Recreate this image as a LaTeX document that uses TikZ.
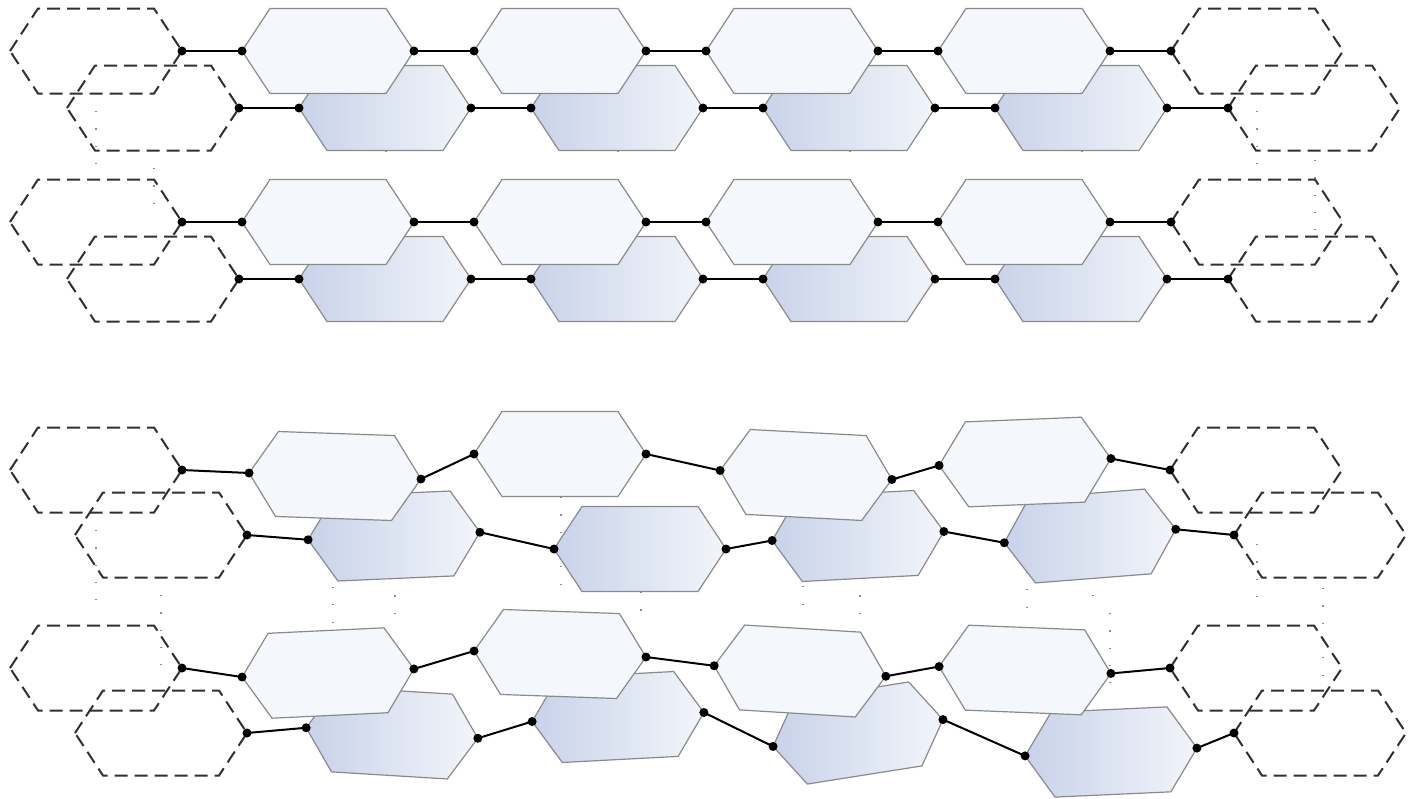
\documentclass[tikz,border=0pt]{standalone}
\definecolor{edgec}{HTML}{8A8A8A}
\definecolor{paperc}{HTML}{F4F7FB}
\definecolor{deepc}{HTML}{C8D2E9}
\definecolor{palec}{HTML}{F2F5FA}
\definecolor{ghostc}{HTML}{303030}
\definecolor{tracec}{HTML}{8A8A8A}
\tikzset{
  frontcell/.style={draw=edgec,line width=1.2pt,fill=paperc},
  backcell/.style={draw=edgec,line width=1.2pt,left color=deepc,right color=palec},
  ghostcell/.style={draw=ghostc,line width=2pt,dash pattern=on 13pt off 7pt},
  link/.style={line width=2pt,black},
  faint/.style={tracec,line width=1.4pt,dash pattern=on 1.2pt off 16.1pt}
}
% hexagon: name, x, y, angle, style
\newcommand\hexcell[5]{%
  \begin{scope}[shift={({#2},{#3})},rotate=#4]
    \path[#5] (-86,0) coordinate (#1-l) -- (-58,-42.5) -- (58,-42.5)
      -- (86,0) coordinate (#1-r) -- (58,42.5) -- (-58,42.5) -- cycle;
  \end{scope}}
% bond between two hexagons
\newcommand\linkup[2]{%
  \draw[link] (#1-r) -- (#2-l);
  \fill (#1-r) circle (4.5pt); \fill (#2-l) circle (4.5pt);}
\begin{document}
\begin{tikzpicture}[x=1pt,y=-1pt]
 \useasboundingbox (0,0) rectangle (1408,798);
 % faint stacking dots
 \foreach \x/\ya/\yb in {96/111/163,154/168/219,328/94/163,386/151/168,560/94/163,618/151/168,
   792/94/163,850/151/168,1024/94/163,1082/151/168,1257/111/163,1315/160/233,
   96/530/615,161/595/680,333/535/638,395/578/628,561/497/600,641/592/620,
   803/517/620,860/578/620,1027/520/623,1093/595/612,1110/613/697,1257/544/605,1323/588/682}
   \draw[faint] (\x,\ya) -- (\x,\yb);
 % upper sheet: straight chains
 \foreach \r/\yy in {B/108,D/279}{
   \hexcell{\r0}{153}{\yy}{0}{ghostcell}
   \foreach \k in {1,...,4}{\hexcell{\r\k}{153+232*\k}{\yy}{0}{backcell}}
   \hexcell{\r5}{1314}{\yy}{0}{ghostcell}
   \foreach \k [count=\n] in {0,...,4}{\linkup{\r\k}{\r\n}}
 }
 \foreach \r/\yy in {A/51,C/222}{
   \hexcell{\r0}{96}{\yy}{0}{ghostcell}
   \foreach \k in {1,...,4}{\hexcell{\r\k}{96+232*\k}{\yy}{0}{frontcell}}
   \hexcell{\r5}{1257}{\yy}{0}{ghostcell}
   \foreach \k [count=\n] in {0,...,4}{\linkup{\r\k}{\r\n}}
 }
 % lower sheet: distorted chains
 \hexcell{F0}{161}{535}{0}{ghostcell}
 \hexcell{F1}{394}{536}{2.5}{backcell}
 \hexcell{F2}{640}{549}{0}{backcell}
 \hexcell{F3}{858}{536}{3}{backcell}
 \hexcell{F4}{1090}{536}{4.5}{backcell}
 \hexcell{F5}{1320}{535}{0}{ghostcell}
 \foreach \k [count=\n] in {0,...,4}{\linkup{F\k}{F\n}}
 \hexcell{E0}{96}{470}{0}{ghostcell}
 \hexcell{E1}{335}{476}{-2}{frontcell}
 \hexcell{E2}{560}{454}{0}{frontcell}
 \hexcell{E3}{806}{475}{-3}{frontcell}
 \hexcell{E4}{1025}{462}{2.3}{frontcell}
 \hexcell{E5}{1256}{470}{0}{ghostcell}
 \foreach \k [count=\n] in {0,...,4}{\linkup{E\k}{E\n}}
 \hexcell{H0}{161}{733}{0}{ghostcell}
 \hexcell{H1}{392}{733}{-3.5}{backcell}
 \hexcell{H2}{618}{717}{3}{backcell}
 \hexcell{H3}{858}{733}{9}{backcell}
 \hexcell{H4}{1111}{752}{2.6}{backcell}
 \hexcell{H5}{1320}{733}{0}{ghostcell}
 \foreach \k [count=\n] in {0,...,4}{\linkup{H\k}{H\n}}
 \hexcell{G0}{96}{668}{0}{ghostcell}
 \hexcell{G1}{328}{673}{2.7}{frontcell}
 \hexcell{G2}{560}{654}{-2}{frontcell}
 \hexcell{G3}{800}{671}{-3.5}{frontcell}
 \hexcell{G4}{1025}{670}{-2.3}{frontcell}
 \hexcell{G5}{1256}{668}{0}{ghostcell}
 \foreach \k [count=\n] in {0,...,4}{\linkup{G\k}{G\n}}
\end{tikzpicture}
\end{document}
